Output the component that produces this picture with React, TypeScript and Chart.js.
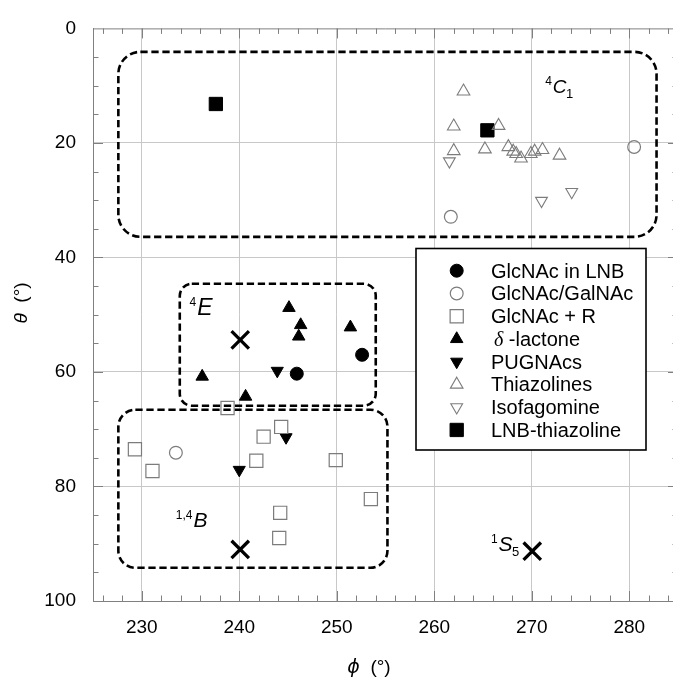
import React, { useEffect, useRef } from 'react';
import { Chart, registerables } from 'chart.js';

Chart.register(...registerables);

// ---------- data (phi, theta in degrees) ----------
const seriesLabels = [
  'GlcNAc in LNB',
  'GlcNAc/GalNAc',
  'GlcNAc + R',
  'δ -lactone',
  'PUGNAcs',
  'Thiazolines',
  'Isofagomine',
  'LNB-thiazoline',
];

const glcnacInLNB = [
  { x: 245.9, y: 60.3 },
  { x: 252.6, y: 57.0 },
];
const glcnacGalnac = [
  { x: 233.5, y: 74.1 },
  { x: 261.7, y: 32.9 },
  { x: 280.5, y: 20.7 },
];
const glcnacR = [
  { x: 238.8, y: 66.3 },
  { x: 244.3, y: 69.6 },
  { x: 242.5, y: 71.3 },
  { x: 229.3, y: 73.5 },
  { x: 231.1, y: 77.3 },
  { x: 241.75, y: 75.5 },
  { x: 249.9, y: 75.4 },
  { x: 253.5, y: 82.2 },
  { x: 244.2, y: 84.6 },
  { x: 244.1, y: 89.0 },
];
const deltaLactone = [
  { x: 245.1, y: 48.8 },
  { x: 246.3, y: 51.8 },
  { x: 246.1, y: 53.8 },
  { x: 251.4, y: 52.2 },
  { x: 236.2, y: 60.8 },
  { x: 240.65, y: 64.3 },
];
const pugnacs = [
  { x: 243.9, y: 59.8 },
  { x: 244.8, y: 71.4 },
  { x: 240.0, y: 77.1 },
];
const thiazolines = [
  { x: 263.0, y: 11.0 },
  { x: 262.0, y: 17.1 },
  { x: 266.6, y: 17.0 },
  { x: 262.0, y: 21.4 },
  { x: 265.2, y: 21.1 },
  { x: 267.6, y: 20.7 },
  { x: 268.1, y: 21.5 },
  { x: 268.4, y: 21.9 },
  { x: 268.9, y: 22.7 },
  { x: 269.9, y: 21.9 },
  { x: 270.3, y: 21.5 },
  { x: 271.1, y: 21.2 },
  { x: 272.85, y: 22.2 },
];
const isofagomine = [
  { x: 261.55, y: 23.2 },
  { x: 271.0, y: 30.1 },
  { x: 274.1, y: 28.55 },
];
const lnbThiazoline = [
  { x: 237.6, y: 13.2 },
  { x: 265.45, y: 17.8 },
];
const canonicalConformers = [
  { x: 240.1, y: 54.4 },
  { x: 240.1, y: 91.0 },
  { x: 270.05, y: 91.3 },
];

// conformer regions (phi/theta ranges)
const regionRanges = [
  { x0: 227.6, x1: 282.8, y0: 4.1, y1: 36.4 },
  { x0: 233.9, x1: 254.0, y0: 44.6, y1: 65.9 },
  { x0: 227.6, x1: 255.2, y0: 66.6, y1: 94.2 },
];
// conformer labels: superscript, letter, subscript, position of letter (phi, theta)
const regionLabels = [
  { sup: '4', main: 'C', sub: '1', x: 272.16, y: 11.25 },
  { sup: '4', main: 'E', sub: '', x: 235.69, y: 50.11 },
  { sup: '1,4', main: 'B', sub: '', x: 235.31, y: 87.09 },
  { sup: '1', main: 'S', sub: '5', x: 266.6, y: 91.26 },
];

const xMin = 225;
const xMax = 285;
const yMin = 0;
const yMax = 100;
const xTickValues = [226, 228, 230, 232, 234, 236, 238, 240, 242, 244, 246, 248, 250, 252, 254, 256, 258, 260, 262, 264, 266, 268, 270, 272, 274, 276, 278, 280, 282, 284];
const yTickValues = [0, 5, 10, 15, 20, 25, 30, 35, 40, 45, 50, 55, 60, 65, 70, 75, 80, 85, 90, 95, 100];

// ---------- styles ----------
const SANS = '"Liberation Sans", Arial, Helvetica, sans-serif';
const SERIF = '"Liberation Serif", "Times New Roman", serif';
const GRAY = '#7c7c7c';
const GRID = '#c8c8c8';
const AXIS = '#808080';
const NONE = 'rgba(0,0,0,0)';
const labelSizes = [19, 23, 21, 21];

function drawMarker(
  ctx: CanvasRenderingContext2D,
  style: string,
  x: number,
  y: number,
  r: number,
  rotDeg: number,
  fill: string,
  stroke: string,
  lw: number
) {
  ctx.save();
  ctx.translate(x, y);
  ctx.rotate((rotDeg * Math.PI) / 180);
  ctx.beginPath();
  if (style === 'circle') {
    ctx.arc(0, 0, r, 0, Math.PI * 2);
  } else if (style === 'rect') {
    const s = r * Math.SQRT1_2;
    ctx.rect(-s, -s, 2 * s, 2 * s);
  } else if (style === 'triangle') {
    ctx.moveTo(0, -r);
    ctx.lineTo(r * 0.866, r * 0.5);
    ctx.lineTo(-r * 0.866, r * 0.5);
    ctx.closePath();
  }
  ctx.fillStyle = fill;
  ctx.fill();
  ctx.strokeStyle = stroke;
  ctx.lineWidth = lw;
  ctx.stroke();
  ctx.restore();
}

function roundRectPath(ctx: CanvasRenderingContext2D, x0: number, y0: number, x1: number, y1: number, r: number) {
  ctx.beginPath();
  ctx.moveTo(x0 + r, y0);
  ctx.lineTo(x1 - r, y0);
  ctx.arcTo(x1, y0, x1, y0 + r, r);
  ctx.lineTo(x1, y1 - r);
  ctx.arcTo(x1, y1, x1 - r, y1, r);
  ctx.lineTo(x0 + r, y1);
  ctx.arcTo(x0, y1, x0, y1 - r, r);
  ctx.lineTo(x0, y0 + r);
  ctx.arcTo(x0, y0, x0 + r, y0, r);
  ctx.closePath();
}

const decorPlugin = {
  id: 'decor',
  beforeDatasetsDraw(chart: any) {
    const ctx: CanvasRenderingContext2D = chart.ctx;
    const xs = chart.scales.x;
    const ys = chart.scales.y;
    const a = chart.chartArea;
    ctx.save();
    // frame (top / right)
    ctx.strokeStyle = AXIS;
    ctx.lineWidth = 1;
    ctx.beginPath();
    ctx.moveTo(a.left, a.top + 0.5);
    ctx.lineTo(a.right, a.top + 0.5);
    ctx.moveTo(a.right - 0.5, a.top);
    ctx.lineTo(a.right - 0.5, a.bottom);
    ctx.stroke();
    // inward ticks
    ctx.beginPath();
    xTickValues.forEach((v) => {
      const px = Math.round(xs.getPixelForValue(v)) + 0.5;
      const len = v % 10 === 0 ? 10 : 5.5;
      ctx.moveTo(px, a.bottom);
      ctx.lineTo(px, a.bottom - len);
      ctx.moveTo(px, a.top);
      ctx.lineTo(px, a.top + len);
    });
    yTickValues.forEach((v) => {
      if (v === yMin || v === yMax) return;
      const py = Math.round(ys.getPixelForValue(v)) + 0.5;
      const len = v % 20 === 0 ? 10 : 5.5;
      ctx.moveTo(a.left, py);
      ctx.lineTo(a.left + len, py);
      ctx.moveTo(a.right, py);
      ctx.lineTo(a.right - len, py);
    });
    ctx.stroke();
    // dashed conformer regions
    const radii = [22, 12, 17];
    ctx.strokeStyle = '#000';
    ctx.lineWidth = 2.6;
    ctx.setLineDash([7.3, 3.7]);
    regionRanges.forEach((b, i) => {
      const x0 = xs.getPixelForValue(b.x0);
      const x1 = xs.getPixelForValue(b.x1);
      const y0 = ys.getPixelForValue(b.y0);
      const y1 = ys.getPixelForValue(b.y1);
      roundRectPath(ctx, x0, y0, x1, y1, radii[i]);
      ctx.stroke();
    });
    ctx.restore();
  },
  afterDatasetsDraw(chart: any) {
    const ctx: CanvasRenderingContext2D = chart.ctx;
    const xs = chart.scales.x;
    const ys = chart.scales.y;
    ctx.save();
    ctx.fillStyle = '#000';
    ctx.textBaseline = 'alphabetic';
    // conformer labels
    regionLabels.forEach((l, i) => {
      const size = labelSizes[i];
      const px = xs.getPixelForValue(l.x);
      const py = ys.getPixelForValue(l.y);
      ctx.font = `italic ${size}px ${SANS}`;
      const mw = ctx.measureText(l.main).width;
      ctx.textAlign = 'left';
      ctx.fillText(l.main, px, py);
      ctx.font = `12px ${SANS}`;
      ctx.textAlign = 'right';
      ctx.fillText(l.sup, px - 1, py - size * 0.4);
      if (l.sub) {
        ctx.font = `13px ${SANS}`;
        ctx.textAlign = 'left';
        ctx.fillText(l.sub, px + mw - 0.5, py + 5);
      }
    });

    // legend
    const lx0 = 416, ly0 = 248.5, lx1 = 646, ly1 = 450;
    ctx.fillStyle = '#fff';
    ctx.fillRect(lx0, ly0, lx1 - lx0, ly1 - ly0);
    ctx.strokeStyle = '#000';
    ctx.lineWidth = 1.6;
    ctx.strokeRect(lx0, ly0, lx1 - lx0, ly1 - ly0);
    const items = chart.data.datasets.filter((d: any) => !d.hideInLegend);
    items.forEach((d: any, i: number) => {
      const cy = 270.7 + i * 22.75;
      drawMarker(ctx, d.pointStyle, 456.7, cy, d.pointRadius, d.pointRotation || 0, d.backgroundColor, d.borderColor, d.borderWidth);
      ctx.fillStyle = '#000';
      ctx.textAlign = 'left';
      const text: string = d.label;
      const base = cy + 7;
      if (/^[\u0370-\u03ff]/.test(text)) {
        ctx.font = `italic 20px ${SERIF}`;
        ctx.fillText(text[0], 494, base);
        const w = ctx.measureText(text[0]).width;
        ctx.font = `20px ${SANS}`;
        ctx.fillText(text.slice(1), 494 + w, base);
      } else {
        ctx.font = `20px ${SANS}`;
        ctx.fillText(text, 491, base);
      }
    });
    ctx.restore();
  },
  afterDraw(chart: any) {
    const ctx: CanvasRenderingContext2D = chart.ctx;
    ctx.save();
    ctx.fillStyle = '#000';
    ctx.textBaseline = 'middle';
    ctx.textAlign = 'left';
    const drawTitle = (greek: string, gFont: string, rest: string, cx: number, cy: number, rot: number) => {
      ctx.save();
      ctx.translate(cx, cy);
      ctx.rotate(rot);
      ctx.font = gFont;
      const gw = ctx.measureText(greek).width;
      ctx.font = `19px ${SANS}`;
      const rw = ctx.measureText(rest).width;
      const start = -(gw + rw) / 2;
      ctx.font = gFont;
      ctx.fillText(greek, start, 0);
      ctx.font = `19px ${SANS}`;
      ctx.fillText(rest, start + gw, 0);
      ctx.restore();
    };
    drawTitle('ϕ', `italic 19px "DejaVu Sans", ${SANS}`, '  (°)', 369, 668, 0);
    drawTitle('θ', `italic 19px ${SANS}`, '  (°)', 22, 303, -Math.PI / 2);
    ctx.restore();
  },
};

export default function App() {
  const ref = useRef<HTMLCanvasElement>(null);

  useEffect(() => {
    const canvas = ref.current;
    if (!canvas) return;
    const tickFont = { family: SANS, size: 19 };
    const chart = new Chart(canvas, {
      type: 'scatter',
      data: {
        datasets: [
          { label: seriesLabels[0], data: glcnacInLNB, pointStyle: 'circle', pointRadius: 6.5, backgroundColor: '#000', borderColor: '#000', borderWidth: 1 },
          { label: seriesLabels[1], data: glcnacGalnac, pointStyle: 'circle', pointRadius: 6.4, backgroundColor: NONE, borderColor: GRAY, borderWidth: 1.2 },
          { label: seriesLabels[2], data: glcnacR, pointStyle: 'rect', pointRadius: 9.3, backgroundColor: NONE, borderColor: GRAY, borderWidth: 1.2 },
          { label: seriesLabels[3], data: deltaLactone, pointStyle: 'triangle', pointRadius: 7.2, backgroundColor: '#000', borderColor: '#000', borderWidth: 1 },
          { label: seriesLabels[4], data: pugnacs, pointStyle: 'triangle', pointRotation: 180, pointRadius: 7, backgroundColor: '#000', borderColor: '#000', borderWidth: 1 },
          { label: seriesLabels[5], data: thiazolines, pointStyle: 'triangle', pointRadius: 7.3, backgroundColor: NONE, borderColor: GRAY, borderWidth: 1.1 },
          { label: seriesLabels[6], data: isofagomine, pointStyle: 'triangle', pointRotation: 180, pointRadius: 6.8, backgroundColor: NONE, borderColor: GRAY, borderWidth: 1.1 },
          { label: seriesLabels[7], data: lnbThiazoline, pointStyle: 'rect', pointRadius: 9.4, backgroundColor: '#000', borderColor: '#000', borderWidth: 1 },
          { label: 'Canonical conformers', hideInLegend: true, data: canonicalConformers, pointStyle: 'crossRot', pointRadius: 12.3, backgroundColor: NONE, borderColor: '#000', borderWidth: 3.3 } as any,
        ],
      },
      options: {
        animation: false,
        responsive: false,
        devicePixelRatio: 1,
        layout: { padding: { top: 18, right: 22, left: 0, bottom: 0 } },
        plugins: { legend: { display: false }, tooltip: { enabled: false } },
        scales: {
          x: {
            type: 'linear',
            position: 'bottom',
            min: xMin,
            max: xMax,
            afterBuildTicks: (s: any) => {
              s.ticks = xTickValues.map((v) => ({ value: v }));
            },
            afterFit: (s: any) => {
              s.height = 76;
            },
            ticks: {
              autoSkip: false,
              maxRotation: 0,
              padding: 15,
              color: '#000',
              font: tickFont,
              callback: (v: any) => (Number(v) % 10 === 0 ? String(v) : ''),
            },
            grid: {
              drawTicks: false,
              lineWidth: 1,
              color: (c: any) => (c.tick && c.tick.value % 10 === 0 ? GRID : NONE),
            },
            border: { display: true, color: AXIS, width: 1 },
          },
          y: {
            type: 'linear',
            min: yMin,
            max: yMax,
            reverse: true,
            afterBuildTicks: (s: any) => {
              s.ticks = yTickValues.map((v) => ({ value: v }));
            },
            afterFit: (s: any) => {
              s.width = 93;
            },
            ticks: {
              autoSkip: false,
              padding: 17,
              color: '#000',
              font: tickFont,
              callback: (v: any) => (Number(v) % 20 === 0 ? String(v) : ''),
            },
            grid: {
              drawTicks: false,
              lineWidth: 1,
              color: (c: any) => (c.tick && c.tick.value % 20 === 0 && c.tick.value !== yMin && c.tick.value !== yMax ? GRID : NONE),
            },
            border: { display: true, color: AXIS, width: 1 },
          },
        },
      } as any,
      plugins: [decorPlugin],
    });
    return () => chart.destroy();
  }, []);

  return (
    <div
      style={{
        position: 'fixed',
        left: 0,
        top: 0,
        width: 673,
        height: 677,
        overflow: 'hidden',
        background: '#fff',
      }}
    >
      <canvas ref={ref} width={700} height={677} style={{ display: 'block', width: 700, height: 677 }} />
    </div>
  );
}
